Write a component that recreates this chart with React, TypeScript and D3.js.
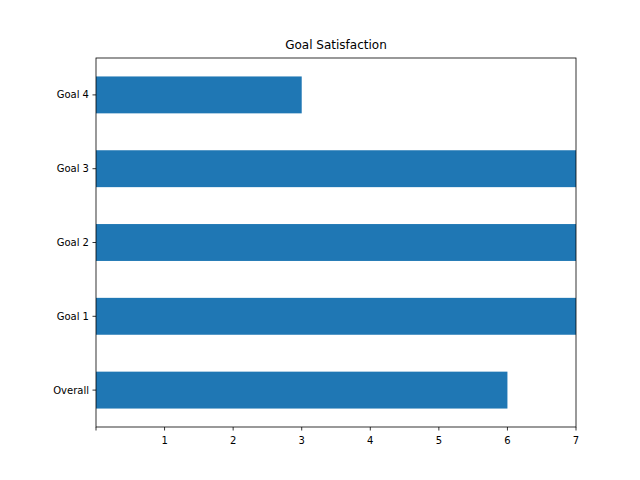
import React from "react";
import * as d3 from "d3";

const categories = ["Overall", "Goal 1", "Goal 2", "Goal 3", "Goal 4"];
const values = [6, 7, 7, 7, 3];
const xTicks = [0, 1, 2, 3, 4, 5, 6, 7];
const xTickLabels = ["", "1", "2", "3", "4", "5", "6", "7"];

export default function App() {
  const L = 96, R = 576, T = 58, B = 427;
  const x = d3.scaleLinear().domain([0, 7]).range([L, R]);
  const y = d3.scaleLinear().domain([-0.5, 4.5]).range([B, T]);
  const bh = y(0) - y(0.5);
  return (
    <svg width={640} height={480} style={{ position: "absolute", left: 0, top: 0, fontFamily: "DejaVu Sans" }}>
      <rect width={640} height={480} fill="white" />
      {categories.map((c, i) => (
        <rect key={c} x={x(0)} y={y(i) - bh / 2} width={x(values[i]) - x(0)} height={bh} fill="#1f77b4" />
      ))}
      <rect x={L} y={T} width={R - L} height={B - T} fill="none" stroke="black" strokeWidth={0.8} />
      {xTicks.map((t, i) => (
        <g key={t}>
          <line x1={x(t)} x2={x(t)} y1={B} y2={B + 3.5} stroke="black" strokeWidth={0.8} />
          <text x={x(t)} y={B + 17} fontSize={10} textAnchor="middle">{xTickLabels[i]}</text>
        </g>
      ))}
      {categories.map((c, i) => (
        <g key={c}>
          <line x1={L - 3.5} x2={L} y1={y(i)} y2={y(i)} stroke="black" strokeWidth={0.8} />
          <text x={L - 7} y={y(i) + 3.5} fontSize={10} textAnchor="end">{c}</text>
        </g>
      ))}
      <text x={(L + R) / 2} y={T - 9} fontSize={12} textAnchor="middle">Goal Satisfaction</text>
    </svg>
  );
}
